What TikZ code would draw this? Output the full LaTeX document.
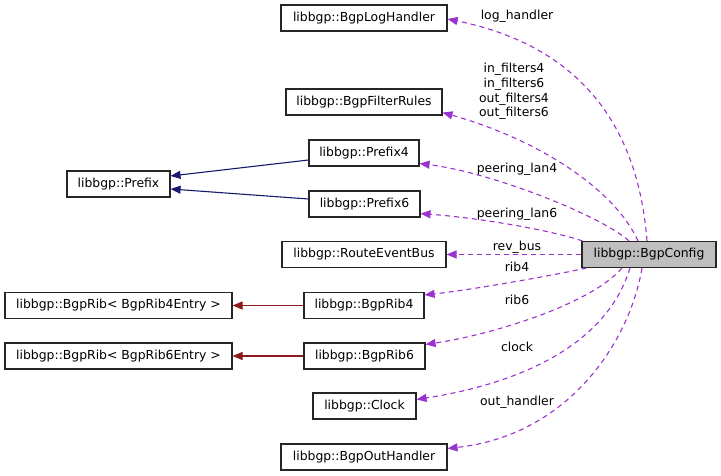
\documentclass[tikz,border=0pt]{standalone}
\usepackage{fontspec}
\setmainfont{DejaVu Sans}
\usetikzlibrary{arrows.meta,calc}
\definecolor{edgepurple}{HTML}{9A32CD}
\definecolor{edgenavy}{HTML}{191970}
\definecolor{edgered}{HTML}{8B1A1A}
\definecolor{cfggrey}{HTML}{BFBFBF}
\begin{document}
\begin{tikzpicture}[x=1pt,y=-1pt,
  font=\fontsize{12.4}{14.8}\selectfont,
  cls/.style={draw=black!85,line width=1.1pt,fill=white,minimum height=26pt,inner sep=0pt,anchor=center},
  usage/.style={draw=edgepurple,line width=1.1pt,dash pattern=on 5pt off 4pt,-{Triangle[length=10pt,width=8pt]}},
  inherit/.style={draw=edgenavy,line width=1.1pt,-{Triangle[length=10pt,width=8pt]}},
  templ/.style={draw=edgered,line width=1.1pt,-{Triangle[length=10pt,width=8pt]}},
  lbl/.style={inner sep=0pt,anchor=base}]
\useasboundingbox (0,0) rectangle (721,476);

\node[cls,minimum width=166pt] (lh) at (364,18) {libbgp::BgpLogHandler};
\node[cls,minimum width=156pt] (fr) at (364,102) {libbgp::BgpFilterRules};
\node[cls,minimum width=103pt] (pre) at (118.5,184) {libbgp::Prefix};
\node[cls,minimum width=110pt] (p4) at (364,153) {libbgp::Prefix4};
\node[cls,minimum width=111pt] (p6) at (364.5,204) {libbgp::Prefix6};
\node[cls,minimum width=164pt] (reb) at (364,254.5) {libbgp::RouteEventBus};
\node[cls,minimum width=134pt,fill=cfggrey] (cfg) at (649,254.5) {libbgp::BgpConfig};
\node[cls,minimum width=227pt] (b4) at (118.5,305.5) {libbgp::BgpRib< BgpRib4Entry >};
\node[cls,minimum width=120pt] (r4) at (364,305.5) {libbgp::BgpRib4};
\node[cls,minimum width=227pt] (b6) at (118.5,356) {libbgp::BgpRib< BgpRib6Entry >};
\node[cls,minimum width=121pt] (r6) at (364.5,356) {libbgp::BgpRib6};
\node[cls,minimum width=103pt] (clk) at (364.5,406) {libbgp::Clock};
\node[cls,minimum width=166pt] (oh) at (364,457) {libbgp::BgpOutHandler};

% inheritance
\draw[inherit] ($(p4.west)+(0,7)$) -- ($(pre.east)+(0,-8)$);
\draw[inherit] ($(p6.west)+(0,-5)$) -- ($(pre.east)+(0,5)$);
\draw[templ] (r4.west) -- (b4.east);
\draw[templ] (r6.west) -- (b6.east);

% usage
\draw[usage] ($(cfg.north)+(-2,0)$) .. controls (640,150) and (600,50) .. ($(lh.east)+(0,1)$);
\draw[usage] ($(cfg.north)+(-11,0)$) .. controls (615,190) and (540,140) .. ($(fr.south east)+(0,-3)$);
\draw[usage] ($(cfg.north)+(-20,0)$) .. controls (600,215) and (490,172) .. ($(p4.south east)+(0,-3)$);
\draw[usage] ($(cfg.north west)+(1,0)$) .. controls (550,230) and (480,218) .. ($(p6.south east)+(0,-4)$);
\draw[usage] (cfg.west) -- (reb.east);
\draw[usage] ($(cfg.south west)+(5,0)$) .. controls (550,276) and (470,290) .. ($(r4.north east)+(0,3)$);
\draw[usage] ($(cfg.south)+(-27,0)$) .. controls (590,305) and (490,335) .. ($(r6.north east)+(0,2)$);
\draw[usage] ($(cfg.south)+(-19,0)$) .. controls (605,350) and (510,385) .. ($(clk.north east)+(0,7)$);
\draw[usage] ($(cfg.south)+(-7,0)$) .. controls (630,340) and (570,435) .. ($(oh.north east)+(0,5)$);

% labels
\node[lbl] (llh) at (517,20) {log\_handler};
\node[lbl] (lf1) at (514,72.5) {in\_filters4};
\node[lbl] (lf2) at (514,87.5) {in\_filters6};
\node[lbl] (lf3) at (514,102.5) {out\_filters4};
\node[lbl] (lf4) at (514,117) {out\_filters6};
\node[lbl] (lp4) at (517,172.5) {peering\_lan4};
\node[lbl] (lp6) at (517,217.5) {peering\_lan6};
\node[lbl] (lrb) at (517,251) {rev\_bus};
\node[lbl] (lr4) at (517,271) {rib4};
\node[lbl] (lr6) at (517,305) {rib6};
\node[lbl] (lck) at (517,351.5) {clock};
\node[lbl] (loh) at (517,405) {out\_handler};
\end{tikzpicture}
\end{document}
